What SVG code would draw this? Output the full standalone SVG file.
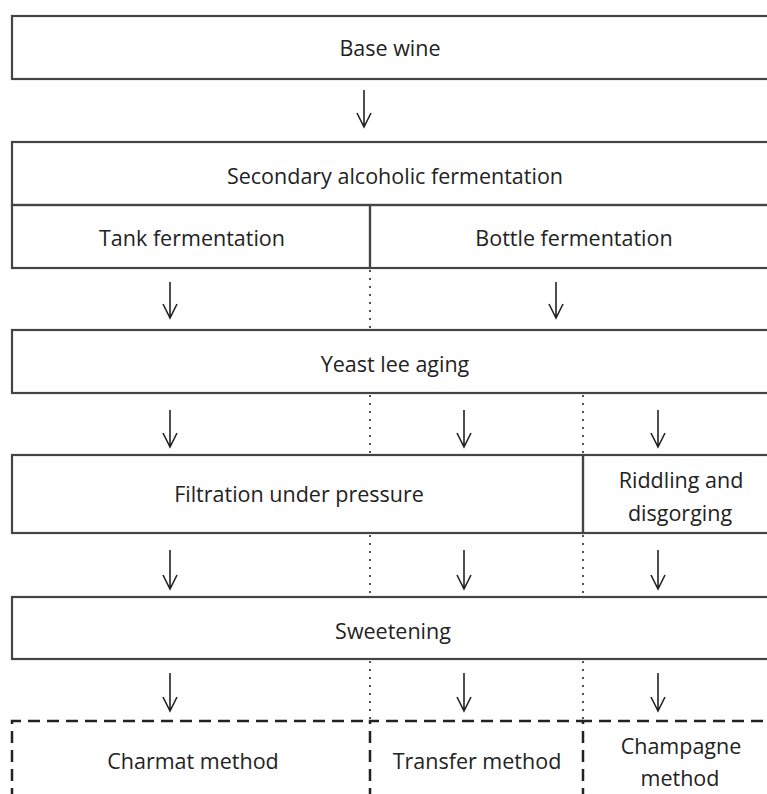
<svg xmlns="http://www.w3.org/2000/svg" width="767" height="794" viewBox="0 0 767 794">
<defs>
<style>
.box{fill:none;stroke:#444;stroke-width:2.2}
.dash{fill:none;stroke:#222;stroke-width:2.5;stroke-dasharray:12 7}
.dot{fill:none;stroke:#555;stroke-width:2;stroke-dasharray:2 6}
.arr{fill:none;stroke:#222;stroke-width:1.6}
text{font-family:"Open Sans","Noto Sans","Liberation Sans",sans-serif;font-size:21.5px;fill:#222;text-anchor:middle}
</style>
</defs>
<rect width="767" height="794" fill="#fff"/>
<g id="base-wine"><rect class="box" x="12" y="16" width="770" height="63"/><text x="390" y="56">Base wine</text></g>
<g id="secondary"><rect class="box" x="12" y="142" width="770" height="63"/><text x="395" y="184">Secondary alcoholic fermentation</text></g>
<g id="tank"><rect class="box" x="12" y="205" width="358" height="63"/><text x="192" y="246">Tank fermentation</text></g>
<g id="bottle"><rect class="box" x="370" y="205" width="412" height="63"/><text x="574" y="246">Bottle fermentation</text></g>
<g id="yeast"><rect class="box" x="12" y="330" width="770" height="63"/><text x="395" y="372">Yeast lee aging</text></g>
<g id="filtration"><rect class="box" x="12" y="455" width="571" height="78"/><text x="299" y="502">Filtration under pressure</text></g>
<g id="riddling"><rect class="box" x="583" y="455" width="199" height="78"/><text x="681" y="488">Riddling and</text><text x="680" y="521">disgorging</text></g>
<g id="sweetening"><rect class="box" x="12" y="597" width="770" height="62"/><text x="393" y="639">Sweetening</text></g>
<g id="charmat"><path class="dash" d="M12 800 V721 H370"/><text x="193" y="769">Charmat method</text></g>
<g id="transfer"><path class="dash" d="M370 800 V721 H583"/><text x="477" y="769">Transfer method</text></g>
<g id="champagne"><path class="dash" d="M583 800 V721 H782"/><text x="681" y="754">Champagne</text><text x="680" y="786">method</text></g>
<g id="connectors">
<path class="dot" d="M370 270 V330 M370 395 V455 M583 395 V455 M370 535 V597 M583 535 V597 M370 661 V721 M583 661 V721"/>
<path class="arr" d="M364 90 V127 M357 113 L364 127 L371 113"/>
<path class="arr" d="M170 282 V318 M163 304 L170 318 L177 304"/>
<path class="arr" d="M556 282 V318 M549 304 L556 318 L563 304"/>
<path class="arr" d="M170 410 V447 M163 433 L170 447 L177 433"/>
<path class="arr" d="M464 410 V447 M457 433 L464 447 L471 433"/>
<path class="arr" d="M658 410 V447 M651 433 L658 447 L665 433"/>
<path class="arr" d="M170 550 V589 M163 575 L170 589 L177 575"/>
<path class="arr" d="M464 550 V589 M457 575 L464 589 L471 575"/>
<path class="arr" d="M658 550 V589 M651 575 L658 589 L665 575"/>
<path class="arr" d="M170 673 V711 M163 697 L170 711 L177 697"/>
<path class="arr" d="M464 673 V711 M457 697 L464 711 L471 697"/>
<path class="arr" d="M658 673 V711 M651 697 L658 711 L665 697"/>
</g>
</svg>
